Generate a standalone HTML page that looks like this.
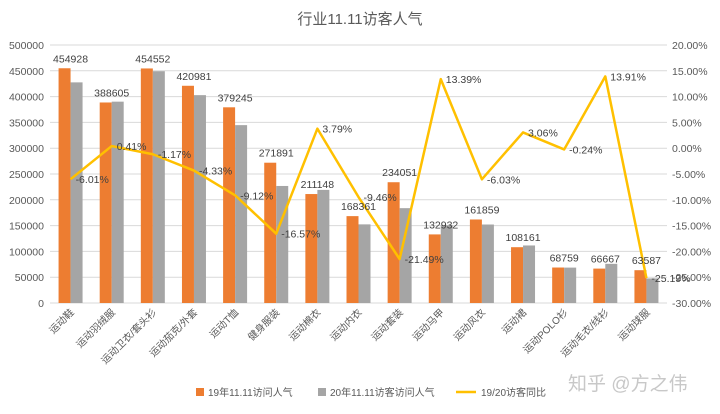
<!DOCTYPE html>
<html><head><meta charset="utf-8"><style>
body{margin:0;background:#fff;}
svg text{font-family:"Liberation Sans","Noto Sans CJK SC",sans-serif;}
</style></head><body>
<svg width="720" height="409" viewBox="0 0 720 409">
<rect width="720" height="409" fill="#fff"/>
<text x="360" y="24" text-anchor="middle" font-size="15" fill="#595959">行业11.11访客人气</text>
<g id="grid"></g><g id="bars"></g><g id="line"></g><g id="labels"></g>
<text x="568" y="390" font-size="19" fill="#c8c8c8">知乎 @方之伟</text>
<g font-size="10" fill="#595959">
<rect x="196" y="388" width="8" height="8" fill="#ED7D31"/><text x="208" y="396">19年11.11访问人气</text>
<rect x="318" y="388" width="8" height="8" fill="#A5A5A5"/><text x="330" y="396">20年11.11访客访问人气</text>
<line x1="456" y1="392" x2="476" y2="392" stroke="#FFC000" stroke-width="2.5"/><text x="481" y="396">19/20访客同比</text>
</g>
</svg>
<script>
const categories=["运动鞋","运动羽绒服","运动卫衣/套头衫","运动茄克/外套","运动T恤","健身服装","运动棉衣","运动内衣","运动套装","运动马甲","运动风衣","运动裙","运动POLO衫","运动毛衣/线衫","运动球服"];
const v19=[454928,388605,454552,420981,379245,271891,211148,168361,234051,132932,161859,108161,68759,66667,63587];
const v20=[427600,390200,449200,402800,344700,226800,219200,152400,183800,150700,152100,111500,68600,75900,47600];
const yoy=[-6.01,0.41,-1.17,-4.33,-9.12,-16.57,3.79,-9.46,-21.49,13.39,-6.03,3.06,-0.24,13.91,-25.19];
const leftTicks=[0,50000,100000,150000,200000,250000,300000,350000,400000,450000,500000];
const rightTicks=[-30,-25,-20,-15,-10,-5,0,5,10,15,20];
const NS="http://www.w3.org/2000/svg";
const X0=50,X1=667,Y0=303,Y1=45;
const bw=(X1-X0)/categories.length;
const yL=v=>Y0-(v/500000)*(Y0-Y1);
const yR=p=>Y0-((p+30)/50)*(Y0-Y1);
const cx=i=>X0+bw*(i+0.5);
function mk(tag,attrs,parent,text){const e=document.createElementNS(NS,tag);for(const k in attrs)e.setAttribute(k,attrs[k]);if(text!==undefined)e.textContent=text;document.getElementById(parent).appendChild(e);return e;}
leftTicks.forEach(t=>{
 const l=mk('line',{x1:X0,x2:X1,y1:yL(t),y2:yL(t),stroke:'#d9d9d9','stroke-width':1},'grid');
 
 
 const tx=mk('text',{x:44,y:yL(t)+4,'text-anchor':'end','font-size':10.5,fill:'#595959'},'grid',String(t));
 
 
});
rightTicks.forEach(t=>{
 const tx=mk('text',{x:672,y:yR(t)+4,'font-size':10.5,fill:'#595959'},'grid',t.toFixed(2)+'%');
 
 
});
categories.forEach((c,i)=>{
 const c0=cx(i);
 const b1=mk('rect',{x:c0-12,y:yL(v19[i]),width:12,height:Y0-yL(v19[i]),fill:'#ED7D31'},'bars');
 
 
 const b2=mk('rect',{x:c0,y:yL(v20[i]),width:12,height:Y0-yL(v20[i]),fill:'#A5A5A5'},'bars');
 
 
 const vl=mk('text',{x:c0,y:yL(v19[i])-6,'text-anchor':'middle','font-size':10.5,fill:'#404040'},'labels',String(v19[i]));
 
 
 const pl=mk('text',{x:c0+5,y:yR(yoy[i])+4,'font-size':10.5,fill:'#404040'},'labels',yoy[i].toFixed(2)+'%');
 
 
 const cl=mk('text',{x:0,y:0,'text-anchor':'end','font-size':10,fill:'#595959',transform:`translate(${c0+4},${Y0+10}) rotate(-45)`},'labels',c);
 
 
});
const pts=yoy.map((p,i)=>cx(i)+','+yR(p)).join(' ');
const pl=mk('polyline',{points:pts,fill:'none',stroke:'#FFC000','stroke-width':2.5,'stroke-linejoin':'round'},'line');


</script>
</body></html>
